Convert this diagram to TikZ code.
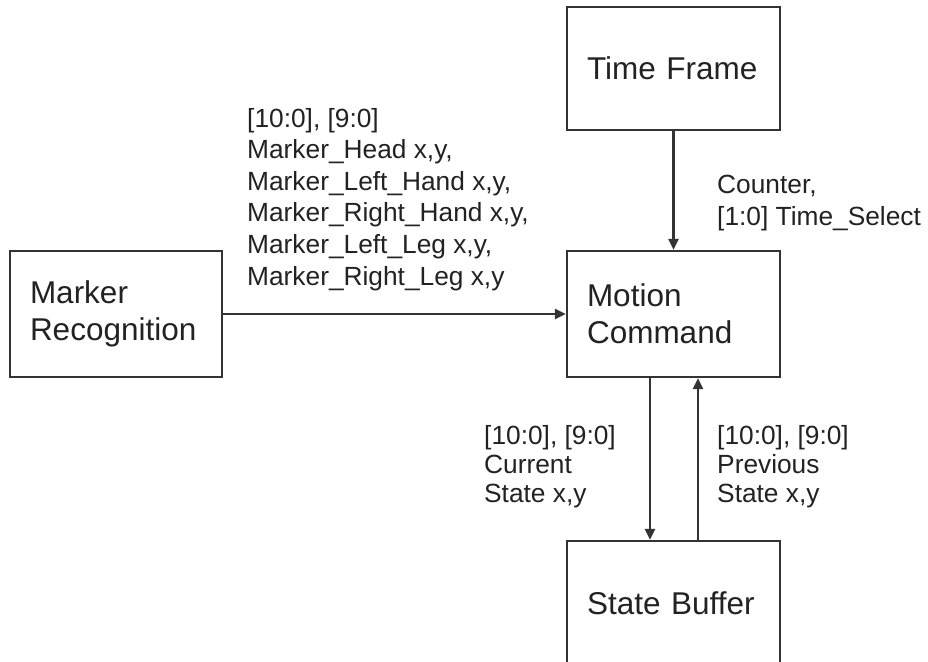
\documentclass[tikz,border=0pt]{standalone}
\usepackage{fontspec}
\setmainfont{Liberation Sans}
\usetikzlibrary{arrows.meta}
\definecolor{linegray}{HTML}{333333}
\definecolor{textgray}{HTML}{222222}
\begin{document}
\begin{tikzpicture}[x=1pt,y=-1pt,
  blockbox/.style={draw=linegray, line width=2.2pt, rectangle, minimum width=213pt,
    inner xsep=20pt, inner ysep=0pt, text width=173pt, align=left,
    font=\fontsize{31.5}{37}\selectfont, text=textgray},
  arr/.style={draw=linegray, line width=2.2pt, -{Triangle[length=11pt,width=10pt]}},
  lab/.style={inner sep=0pt, align=left, anchor=base west, text=textgray},
  labA/.style={lab, font=\fontsize{26.3}{31.6}\selectfont},
  labB/.style={lab, font=\fontsize{26.3}{29}\selectfont}]
\useasboundingbox (0,0) rectangle (928,661);
\fill[white] (0,0) rectangle (928,661);
\node[blockbox, minimum height=123pt] (tf) at (673.5,68.5) {Time Frame};
\node[blockbox, minimum height=126pt, minimum width=212pt, text width=172pt] (mr) at (116,314) {Marker\\Recognition};
\node[blockbox, minimum height=126pt] (mc) at (673.5,314) {Motion\\Command};
\node[blockbox, minimum height=124pt] (sb) at (673.5,603) {State Buffer};
\draw[arr] (tf) -- (mc);
\draw[arr] (mr) -- (mc);
\draw[arr] ([xshift=-23.5pt]mc.south) -- ([xshift=-23.5pt]sb.north);
\draw[arr] ([xshift=24.5pt]sb.north) -- ([xshift=24.5pt]mc.south);
\node[labA] (l1) at (247,285) {[10:0], [9:0]\\Marker\_Head x,y,\\Marker\_Left\_Hand x,y,\\Marker\_Right\_Hand x,y,\\Marker\_Left\_Leg x,y,\\Marker\_Right\_Leg x,y};
\node[labA] (l2) at (717,225) {Counter,\\{}[1:0] Time\_Select};
\node[labB] (l3) at (484,502) {[10:0], [9:0]\\Current\\State x,y};
\node[labB] (l4) at (717,502) {[10:0], [9:0]\\Previous\\State x,y};
\end{tikzpicture}
\end{document}
